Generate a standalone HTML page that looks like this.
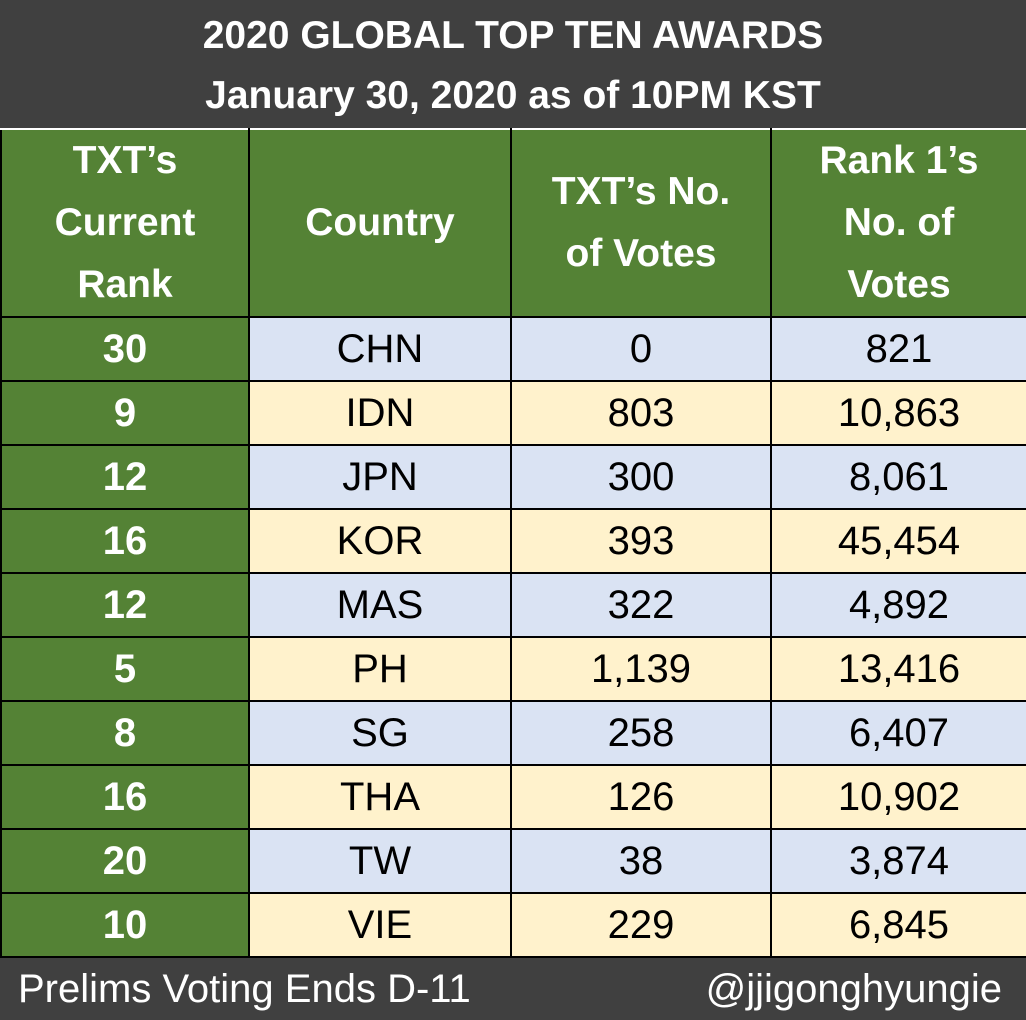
<!DOCTYPE html>
<html><head><meta charset="utf-8"><style>
body{margin:0;width:1026px;height:1020px;overflow:hidden;background:#404040;font-family:"Liberation Sans",sans-serif;}
.t{position:absolute;left:0;width:1026px;text-align:center;color:#fff;font-weight:bold;font-size:39px;}
table{position:absolute;left:0;top:128px;border-collapse:collapse;width:1026px;table-layout:fixed;}
td{border:2px solid #000;text-align:center;padding:0;font-size:40px;color:#000;height:62px;}
th{border:2px solid #000;background:#548235;color:#fff;font-size:39px;line-height:62px;height:184px;padding:0;border-top:2px solid #fff;}
td.r{background:#548235;color:#fff;font-weight:bold;}
tr.b td{background:#dae3f3}tr.y td{background:#fff2cc}
tr.b td.r,tr.y td.r{background:#548235}
.f{position:absolute;top:958px;height:62px;line-height:62px;color:#fff;font-size:40px;}
</style></head><body>
<div class="t" style="top:14px">2020 GLOBAL TOP TEN AWARDS</div>
<div class="t" style="top:74px">January 30, 2020 as of 10PM KST</div>
<table>
<colgroup><col style="width:248px"><col style="width:262px"><col style="width:260px"><col style="width:256px"></colgroup>
<thead><tr>
<th>TXT’s<br>Current<br>Rank</th>
<th>Country</th>
<th>TXT’s No.<br>of Votes</th>
<th>Rank 1’s<br>No. of<br>Votes</th>
</tr></thead>
<tbody id="tb"></tbody></table>
<div class="f" style="left:18px">Prelims Voting Ends D-11</div>
<div class="f" style="right:24px">@jjigonghyungie</div>
<script>
const ranks=["30","9","12","16","12","5","8","16","20","10"];
const countries=["CHN","IDN","JPN","KOR","MAS","PH","SG","THA","TW","VIE"];
const txtVotes=["0","803","300","393","322","1,139","258","126","38","229"];
const rank1Votes=["821","10,863","8,061","45,454","4,892","13,416","6,407","10,902","3,874","6,845"];
const tb=document.getElementById('tb');
countries.forEach((c,i)=>{
  const tr=document.createElement('tr');
  tr.className=i%2?'y':'b';
  
  
  [ranks[i],c,txtVotes[i],rank1Votes[i]].forEach((v,j)=>{
    const td=document.createElement('td');
    if(j===0)td.className='r';
    td.textContent=v;
    
    
    tr.appendChild(td);
  });
  tb.appendChild(tr);
});
</script>
</body></html>
